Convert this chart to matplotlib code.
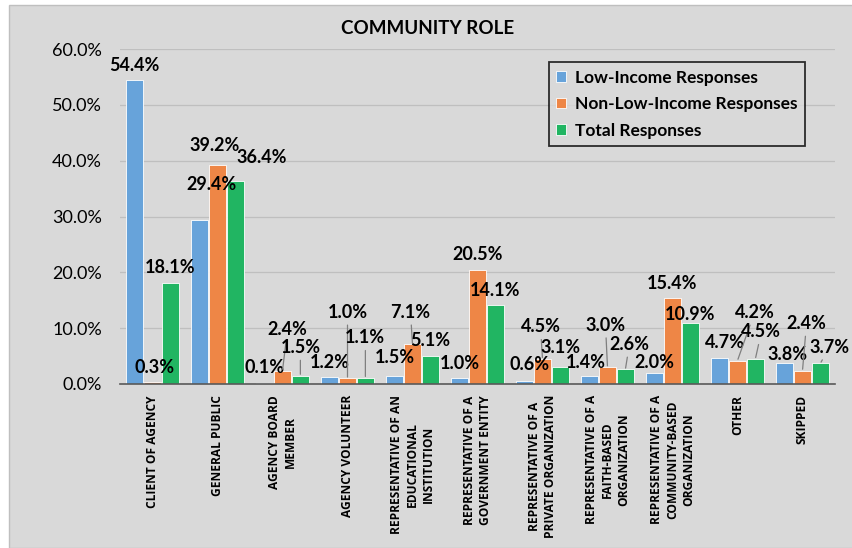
import matplotlib.pyplot as plt
import numpy as np
from matplotlib.patches import Rectangle

plt.rcParams['font.family'] = ['Lato', 'DejaVu Sans']

# 데이터
categories = [
    'CLIENT OF AGENCY', 'GENERAL PUBLIC', 'AGENCY BOARD\nMEMBER', 'AGENCY VOLUNTEER',
    'REPRESENTATIVE OF AN\nEDUCATIONAL\nINSTITUTION',
    'REPRESENTATIVE OF A\nGOVERNMENT ENTITY',
    'REPRESENTATIVE OF A\nPRIVATE ORGANIZATION',
    'REPRESENTATIVE OF A\nFAITH-BASED\nORGANIZATION',
    'REPRESENTATIVE OF A\nCOMMUNITY-BASED\nORGANIZATION',
    'OTHER', 'SKIPPED',
]
low_income = [54.4, 29.4, 0.1, 1.2, 1.5, 1.0, 0.6, 1.4, 2.0, 4.7, 3.8]
non_low_income = [0.3, 39.2, 2.4, 1.0, 7.1, 20.5, 4.5, 3.0, 15.4, 4.2, 2.4]
total = [18.1, 36.4, 1.5, 1.1, 5.1, 14.1, 3.1, 2.6, 10.9, 4.5, 3.7]
series_names = ['Low-Income Responses', 'Non-Low-Income Responses', 'Total Responses']

# 라벨 위치 (픽셀 오프셋: 막대 꼭대기 기준 dx, dy)
label_offsets = [
    [(0, 15), (2, 15), (0, 15)],
    [(12, 35), (-3, 20), (26, 23)],
    [(0, 16), (5, 41), (0, 28)],
    [(0, 15), (0, 66), (0, 40)],
    [(0, 18), (-2, 32), (0, 15)],
    [(0, 15), (0, 15), (0, 15)],
    [(5, 16), (-2, 32), (0, 19)],
    [(-4, 14), (-2, 42), (4, 25)],
    [(0, 10), (0, 15), (0, 9)],
    [(5, 15), (17, 48), (6, 27)],
    [(3, 8), (4, 47), (9, 16)],
]
leaders = {(2, 1), (2, 2), (3, 1), (3, 2), (4, 1), (6, 1), (7, 1), (7, 2),
           (9, 1), (9, 2), (10, 1), (10, 2)}

colors = ['#67A3DA', '#EE8646', '#21B562']
bg = '#D9D9D9'

fig = plt.figure(figsize=(8.52, 5.48), dpi=100, facecolor='white')
fig.patches.append(Rectangle((9 / 852, 0), 1, 1 - 5 / 548, transform=fig.transFigure,
                             facecolor=bg, edgecolor='#BFBFBF', linewidth=1, zorder=-1))
ax = fig.add_axes([120 / 852, 1 - 384 / 548, 715 / 852, 335 / 548])
ax.set_facecolor(bg)

x = np.arange(len(categories))
width = 0.255
shifts = [-0.275, 0, 0.275]
all_series = [low_income, non_low_income, total]

for s, (vals, name, col) in enumerate(zip(all_series, series_names, colors)):
    ax.bar(x + shifts[s], vals, width, color=col, edgecolor='white', linewidth=0.6,
           label=name, zorder=2)
    for i, v in enumerate(vals):
        dx, dy = label_offsets[i][s]
        arrow = None
        if (i, s) in leaders:
            arrow = dict(arrowstyle='-', color='#7F7F7F', lw=0.9, shrinkA=1, shrinkB=1)
        ax.annotate(f'{v:.1f}%', xy=(x[i] + shifts[s], v), xytext=(dx, dy),
                    textcoords='offset pixels', ha='center', va='center',
                    fontsize=13, fontweight='bold', color='black',
                    arrowprops=arrow, zorder=4)

ax.set_ylim(0, 60)
ax.set_xlim(-0.5, len(categories) - 0.5)
ax.set_yticks(np.arange(0, 61, 10))
ax.set_yticklabels([f'{t:.1f}%' for t in np.arange(0, 61, 10)], fontsize=13)
ax.tick_params(axis='y', length=0, pad=13)
ax.set_xticks(x)
ax.set_xticklabels(categories, rotation=90, fontsize=8.6, fontweight='bold',
                   family=['Open Sans', 'DejaVu Sans'], ha='center', va='top',
                   multialignment='center', linespacing=1.3)
ax.tick_params(axis='x', length=0, pad=8)
ax.grid(True, axis='y', color='#BFBFBF', linewidth=0.9, zorder=0)
ax.set_axisbelow(True)
for side in ['top', 'right', 'left']:
    ax.spines[side].set_visible(False)
ax.spines['bottom'].set_color('#595959')
ax.spines['bottom'].set_linewidth(1.2)

leg = ax.legend(loc='upper right', bbox_to_anchor=(805 / 852, 1 - 62 / 548),
                bbox_transform=fig.transFigure, fancybox=False, frameon=True,
                prop={'size': 12.5, 'weight': 'bold'}, handlelength=0.55, handleheight=0.55,
                handletextpad=0.5, borderpad=0.45, labelspacing=0.6, borderaxespad=0)
leg.get_frame().set_edgecolor('black')
leg.get_frame().set_linewidth(1.3)
leg.get_frame().set_facecolor(bg)

fig.text(428 / 852, 1 - 28 / 548, 'COMMUNITY ROLE', ha='center', va='center',
         fontsize=13.5, fontweight='bold')

fig.savefig('out.png', dpi=100, facecolor='white')
